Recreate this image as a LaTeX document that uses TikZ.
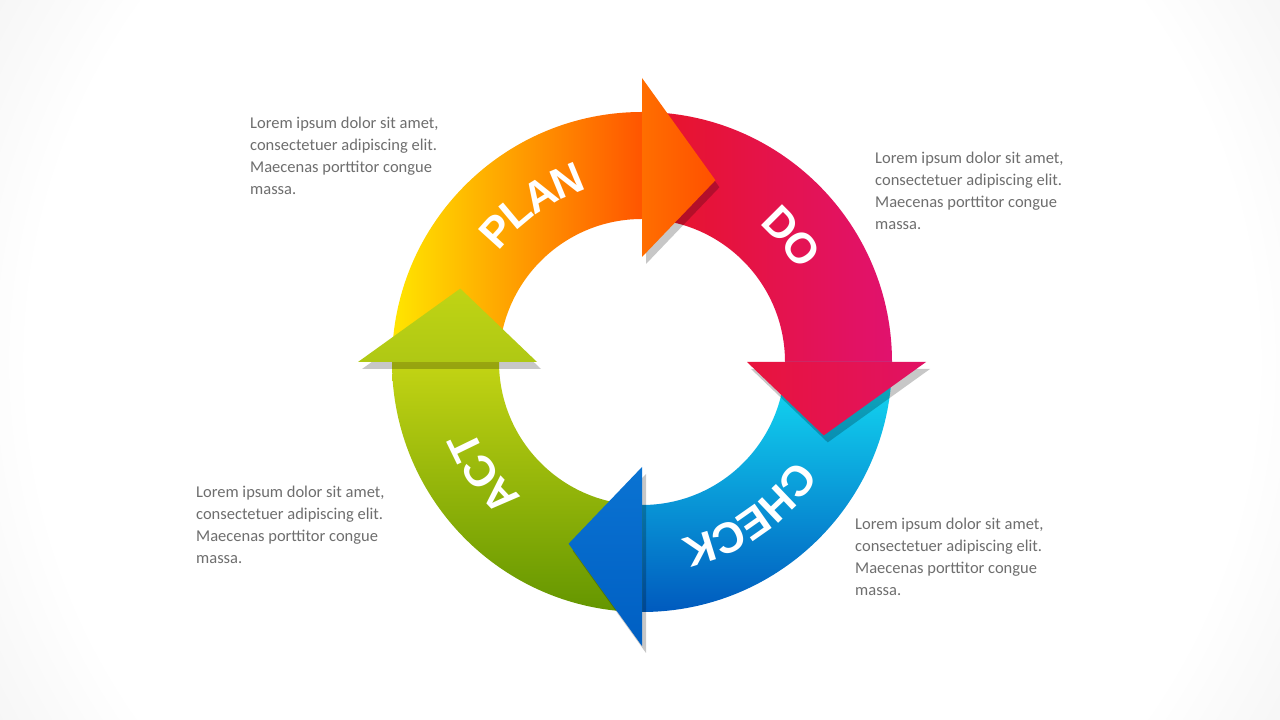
\documentclass[tikz,border=0pt]{standalone}
\usepackage{fontspec}
\setmainfont{Carlito}
\newfontfamily\hd{Liberation Sans}
\usetikzlibrary{decorations.text}
\definecolor{txt}{RGB}{110,110,110}
\pgfdeclareradialshading{bgshade}{\pgfpoint{0bp}{0bp}}{color(0bp)=(white); color(17bp)=(white); color(38bp)=(gray!42); color(50bp)=(gray!50)}
\begin{document}
\begin{tikzpicture}[x=1pt,y=1pt,
  lorem/.style={anchor=north west,align=left,text=txt,font=\fontsize{16.5}{22}\selectfont,inner sep=0pt},
  shad/.style={fill=black,opacity=0.22}]
\useasboundingbox (0,0) rectangle (1280,720);
\shade[shading=bgshade] (642-900,358-900) rectangle (642+900,358+900);
\newcommand\body[1]{(#1:250pt) arc[start angle=#1,end angle=#1-90,radius=250pt] -- (#1-90:143pt) arc[start angle=#1-90,end angle=#1,radius=143pt] -- cycle}
\newcommand\head[1]{(#1:105pt) -- (#1:284pt) -- (#1-22:196pt) -- cycle}
\newcommand\lbl[2]{\path[decorate,decoration={text along path,text align=center,raise=-15pt,text={|\hd\fontsize{43}{43}\bfseries\color{white}|#2}}] (#1+50:196pt) arc[start angle=#1+50,end angle=#1-50,radius=196pt];}
\begin{scope}[shift={(642,358)}]
 \shade[left color={rgb,255:red,255;green,230;blue,0},right color={rgb,255:red,255;green,85;blue,0}] \body{180};
 \shade[left color={rgb,255:red,232;green,20;blue,38},right color={rgb,255:red,225;green,18;blue,110}] \body{90};
 \shade[top color={rgb,255:red,20;green,225;blue,245},bottom color={rgb,255:red,0;green,90;blue,190}] \body{0};
 \shade[top color={rgb,255:red,195;green,212;blue,20},bottom color={rgb,255:red,100;green,150;blue,0}] \body{-90};
 \begin{scope}[shift={(4,-7)}]
  \fill[shad] \head{90}; \fill[shad] \head{0}; \fill[shad] \head{-90}; \fill[shad] \head{180};
 \end{scope}
 \shade[left color={rgb,255:red,255;green,110;blue,0},right color={rgb,255:red,255;green,80;blue,0}] \head{90};
 \shade[left color={rgb,255:red,232;green,20;blue,60},right color={rgb,255:red,225;green,18;blue,100}] \head{0};
 \shade[top color={rgb,255:red,10;green,115;blue,210},bottom color={rgb,255:red,0;green,95;blue,195}] \head{-90};
 \shade[top color={rgb,255:red,192;green,212;blue,20},bottom color={rgb,255:red,175;green,200;blue,20}] \head{180};
 \lbl{125}{PLAN}
 \lbl{40}{DO}
 \lbl{-55}{CHECK}
 \lbl{-145}{ACT}
\end{scope}
\node[lorem] (t1) at (250,603) {Lorem ipsum dolor sit amet,\\consectetuer adipiscing elit.\\Maecenas porttitor congue\\massa.};
\node[lorem] (t2) at (875,568) {Lorem ipsum dolor sit amet,\\consectetuer adipiscing elit.\\Maecenas porttitor congue\\massa.};
\node[lorem] (t3) at (196,234) {Lorem ipsum dolor sit amet,\\consectetuer adipiscing elit.\\Maecenas porttitor congue\\massa.};
\node[lorem] (t4) at (855,202) {Lorem ipsum dolor sit amet,\\consectetuer adipiscing elit.\\Maecenas porttitor congue\\massa.};
\end{tikzpicture}
\end{document}
